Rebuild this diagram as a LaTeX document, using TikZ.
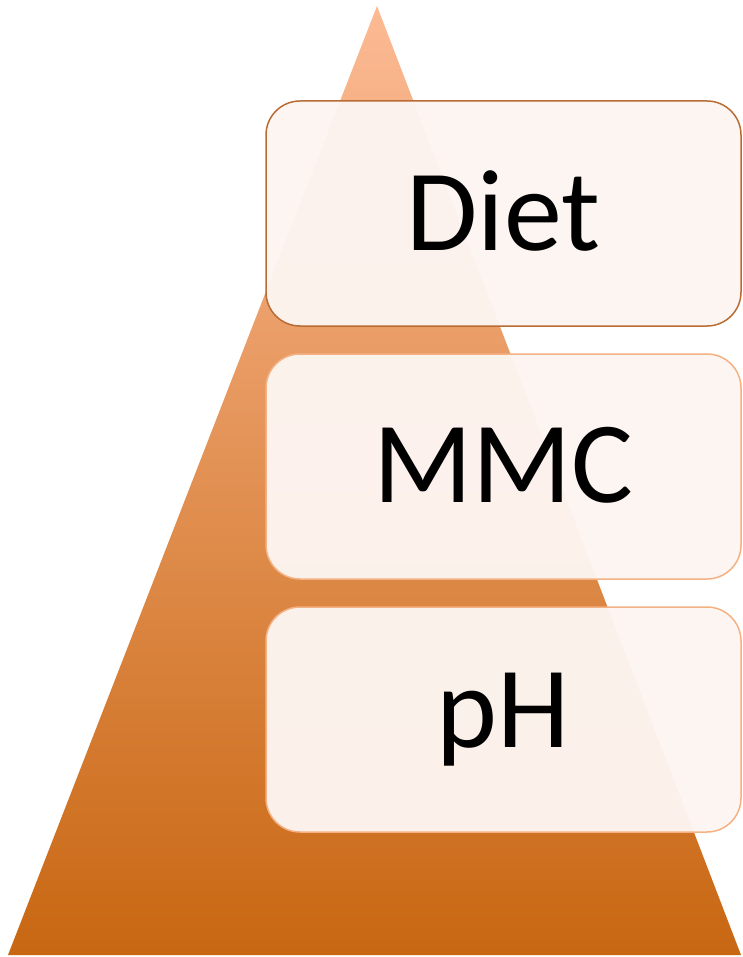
\documentclass[tikz,border=0pt]{standalone}
\usepackage{fontspec}
\setmainfont{Carlito}
\usepackage{tikz}
\usetikzlibrary{positioning}
\definecolor{peachtop}{RGB}{252, 186, 148}
\definecolor{peachmid}{RGB}{238, 158, 106}
\definecolor{ambertail}{RGB}{200, 103, 18}
\definecolor{topedge}{RGB}{184, 108, 52}
\definecolor{lowedge}{RGB}{244, 177, 131}
\definecolor{boxfill}{RGB}{253, 245, 241}

\begin{document}
\begin{tikzpicture}[x=1pt, y=-1pt,
    level/.style={rectangle, draw=lowedge, line width=1.5pt, rounded corners=34pt,
        fill=boxfill, fill opacity=0.97, text opacity=1,
        minimum width=475pt, minimum height=225pt, align=center,
        font=\fontsize{116}{140}\selectfont},
    toplevel/.style={level, draw=topedge}
]
    \useasboundingbox (0,0) rectangle (742,957);

    % Pyramid
    \coordinate (apex) at (377,6);
    \coordinate (baseL) at (8,955);
    \coordinate (baseR) at (741,955);
    \shade[top color=peachtop, middle color=peachmid, bottom color=ambertail]
        (apex) -- (baseR) -- (baseL) -- cycle;

    % Levels
    \node[toplevel] (diet) at (503.5,213.5) {\raisebox{5pt}{Diet}};
    \node[level] (mmc) at (503.5,466.5) {\raisebox{3pt}{MMC}};
    \node[level] (ph) at (503.5,719.5) {pH};
\end{tikzpicture}
\end{document}
